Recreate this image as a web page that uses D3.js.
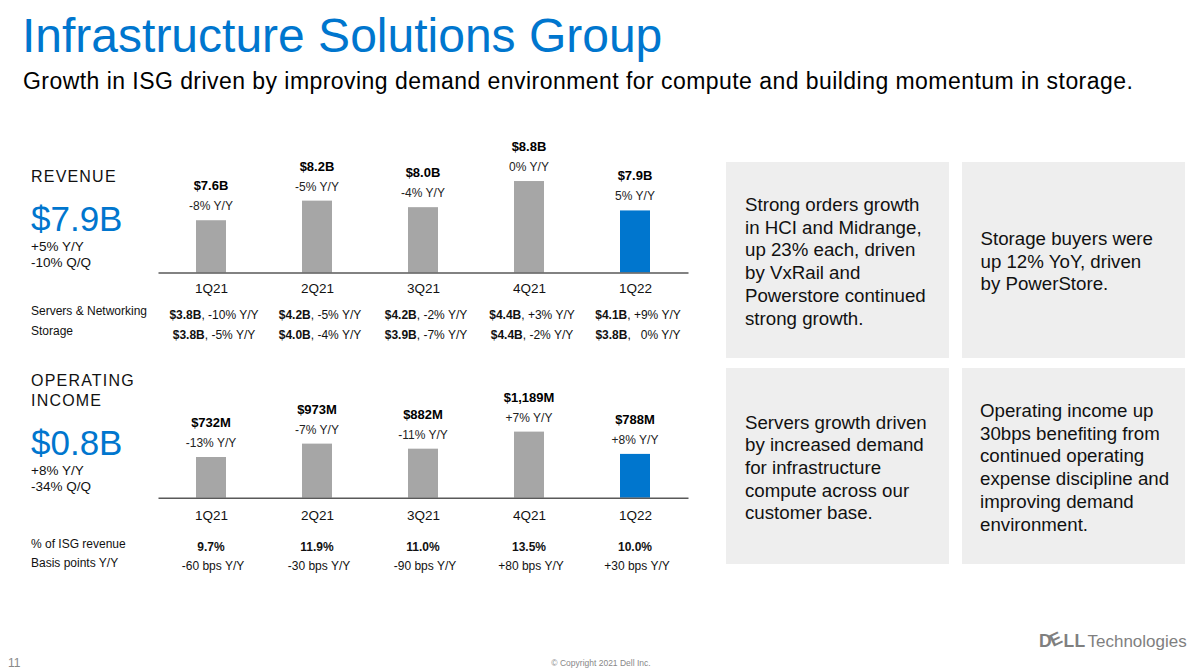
<!DOCTYPE html>
<html>
<head>
<meta charset="utf-8">
<script src="https://cdn.jsdelivr.net/npm/d3@7"></script>
<style>
  html, body { margin: 0; padding: 0; background: #fff; }
  svg { display: block; font-family: "Liberation Sans", Arial, sans-serif; }
  .pre { white-space: pre; }
</style>
</head>
<body>
<script>
// chart data
var quarters = ["1Q21", "2Q21", "3Q21", "4Q21", "1Q22"];

var revenue = [7.6, 8.2, 8.0, 8.8, 7.9];
var revenueLabels = ["$7.6B", "$8.2B", "$8.0B", "$8.8B", "$7.9B"];
var revenueYoY = ["-8% Y/Y", "-5% Y/Y", "-4% Y/Y", "0% Y/Y", "5% Y/Y"];

var serversNet = [["$3.8B", ", -10% Y/Y"], ["$4.2B", ", -5% Y/Y"], ["$4.2B", ", -2% Y/Y"], ["$4.4B", ", +3% Y/Y"], ["$4.1B", ", +9% Y/Y"]];
var storage = [["$3.8B", ", -5% Y/Y"], ["$4.0B", ", -4% Y/Y"], ["$3.9B", ", -7% Y/Y"], ["$4.4B", ", -2% Y/Y"], ["$3.8B", ",   0% Y/Y"]];

var opIncome = [732, 973, 882, 1189, 788];
var opIncomeLabels = ["$732M", "$973M", "$882M", "$1,189M", "$788M"];
var opIncomeYoY = ["-13% Y/Y", "-7% Y/Y", "-11% Y/Y", "+7% Y/Y", "+8% Y/Y"];

var pctOfRevenue = ["9.7%", "11.9%", "11.0%", "13.5%", "10.0%"];
var bpsYoY = ["-60 bps Y/Y", "-30 bps Y/Y", "-90 bps Y/Y", "+80 bps Y/Y", "+30 bps Y/Y"];

var notes = [
    ["Strong orders growth", "in HCI and Midrange,", "up 23% each, driven", "by VxRail and", "Powerstore continued", "strong growth."],
    ["Storage buyers were", "up 12% YoY, driven", "by PowerStore."],
    ["Servers growth driven", "by increased demand", "for infrastructure", "compute across our", "customer base."],
    ["Operating income up", "30bps benefiting from", "continued operating", "expense discipline and", "improving demand", "environment."]
];
//********

var blue = "#0076CE";
var grey = "#A6A6A6";

var width = 1200;
var height = 669;

var svg = d3.select("body").append("svg")
    .attr("width", width)
    .attr("height", height);

// header
svg.append("text")
    .attr("x", 22).attr("y", 52)
    .attr("font-size", 48)
    .attr("fill", blue)
    .text("Infrastructure Solutions Group");

svg.append("text")
    .attr("x", 23).attr("y", 89)
    .attr("font-size", 23)
    .attr("letter-spacing", 0.45)
    .attr("fill", "#000")
    .text("Growth in ISG driven by improving demand environment for compute and building momentum in storage.");

// x positions shared by both charts
var x = d3.scalePoint().domain(quarters).range([158, 688]).padding(0.5);
var barW = 30;

function drawChart(opts) {
    var y = d3.scaleLinear().domain(opts.domain).range([opts.base, opts.base - opts.span]);
    var g = svg.append("g");

    g.selectAll(".bar")
        .data(opts.values)
        .enter()
        .append("rect")
        .attr("class", "bar")
        .attr("x", function (d, i) { return x(quarters[i]) - barW / 2; })
        .attr("y", function (d) { return y(d); })
        .attr("width", barW)
        .attr("height", function (d) { return opts.base - y(d); })
        .attr("fill", function (d, i) { return i == quarters.length - 1 ? blue : grey; });

    g.selectAll(".val")
        .data(opts.values)
        .enter()
        .append("text")
        .attr("class", "val")
        .attr("x", function (d, i) { return x(quarters[i]); })
        .attr("y", function (d) { return y(d) - 30; })
        .attr("text-anchor", "middle")
        .attr("font-size", 13)
        .attr("font-weight", "bold")
        .text(function (d, i) { return opts.labels[i]; });

    g.selectAll(".yoy")
        .data(opts.values)
        .enter()
        .append("text")
        .attr("class", "yoy")
        .attr("x", function (d, i) { return x(quarters[i]); })
        .attr("y", function (d) { return y(d) - 10; })
        .attr("text-anchor", "middle")
        .attr("font-size", 12)
        .attr("fill", "#222")
        .text(function (d, i) { return opts.yoy[i]; });

    var axis = g.append("g")
        .attr("transform", "translate(0," + opts.base + ")")
        .call(d3.axisBottom(x).tickSize(0).tickPadding(opts.pad).tickSizeOuter(0));
    axis.select(".domain").attr("stroke", "#595959").attr("stroke-width", 1.6);
    axis.selectAll("text")
        .attr("font-size", 13.5)
        .attr("font-family", "Liberation Sans, Arial, sans-serif")
        .attr("fill", "#111");
}

drawChart({ values: revenue, labels: revenueLabels, yoy: revenueYoY, domain: [6, 9], base: 272.5, span: 98, pad: 11 });
drawChart({ values: opIncome, labels: opIncomeLabels, yoy: opIncomeYoY, domain: [0, 1200], base: 497.7, span: 66.7, pad: 12.5 });

// left side headings
function heading(lines, big, sub, top) {
    lines.forEach(function (l, i) {
        svg.append("text")
            .attr("x", 31).attr("y", top + i * 20.5)
            .attr("font-size", 16).attr("letter-spacing", 1.2)
            .attr("fill", "#111")
            .text(l);
    });
    var by = top + (lines.length - 1) * 20.5 + 49;
    svg.append("text")
        .attr("x", 31).attr("y", by)
        .attr("font-size", 35).attr("fill", blue)
        .text(big);
    sub.forEach(function (s, i) {
        svg.append("text")
            .attr("x", 31).attr("y", by + 20 + i * 16)
            .attr("font-size", 13.5).attr("fill", "#111")
            .text(s);
    });
}
heading(["REVENUE"], "$7.9B", ["+5% Y/Y", "-10% Q/Q"], 181.5);
heading(["OPERATING", "INCOME"], "$0.8B", ["+8% Y/Y", "-34% Q/Q"], 385.5);

// tables under the charts
function rowLabel(t, yy) {
    svg.append("text").attr("x", 31).attr("y", yy)
        .attr("font-size", 12).attr("fill", "#111").text(t);
}
function mixedRow(data, yy) {
    var t = svg.selectAll(null)
        .data(data)
        .enter()
        .append("text")
        .attr("class", "pre")
        .attr("x", function (d, i) { return x(quarters[i]) + 3; })
        .attr("y", yy)
        .attr("text-anchor", "middle")
        .attr("font-size", 12)
        .attr("fill", "#111");
    t.append("tspan").attr("font-weight", "bold").text(function (d) { return d[0]; });
    t.append("tspan").text(function (d) { return d[1]; });
}
function plainRow(data, yy, bold, dx) {
    svg.selectAll(null)
        .data(data)
        .enter()
        .append("text")
        .attr("x", function (d, i) { return x(quarters[i]) + dx; })
        .attr("y", yy)
        .attr("text-anchor", "middle")
        .attr("font-size", 12)
        .attr("font-weight", bold ? "bold" : "normal")
        .attr("fill", "#111")
        .text(function (d) { return d; });
}

rowLabel("Servers & Networking", 315);
rowLabel("Storage", 334.5);
mixedRow(serversNet, 319);
mixedRow(storage, 338.5);

rowLabel("% of ISG revenue", 547.5);
rowLabel("Basis points Y/Y", 566.5);
plainRow(pctOfRevenue, 550.5, true, 0);
plainRow(bpsYoY, 569.5, false, 2);

// commentary boxes
var boxes = [
    { x: 726, y: 162, w: 223, h: 196, tx: 745, ty: 211 },
    { x: 962, y: 162, w: 223, h: 196, tx: 980.5, ty: 245 },
    { x: 726, y: 368, w: 223, h: 196, tx: 745, ty: 428.5 },
    { x: 962, y: 368, w: 223, h: 196, tx: 980, ty: 417 }
];
boxes.forEach(function (b, i) {
    svg.append("rect")
        .attr("x", b.x).attr("y", b.y)
        .attr("width", b.w).attr("height", b.h)
        .attr("fill", "#EEEEEE");
    var t = svg.append("text")
        .attr("x", b.tx).attr("y", b.ty)
        .attr("font-size", 18.7).attr("fill", "#111");
    notes[i].forEach(function (l, j) {
        t.append("tspan").attr("x", b.tx).attr("dy", j == 0 ? 0 : 22.7).text(l);
    });
});

// footer
svg.append("text")
    .attr("x", 8).attr("y", 667)
    .attr("font-size", 12).attr("fill", "#888")
    .text("11");

svg.append("text")
    .attr("x", 601).attr("y", 666)
    .attr("text-anchor", "middle")
    .attr("font-size", 8.5).attr("fill", "#888")
    .text("\u00A9 Copyright 2021 Dell Inc.");

var logo = svg.append("g").attr("fill", "#7F7F7F");
logo.append("text").attr("x", 1039).attr("y", 647)
    .attr("font-size", 17.5).attr("font-weight", "bold").text("D");
logo.append("text").attr("transform", "translate(1053,647) rotate(-25)")
    .attr("font-size", 17.5).attr("font-weight", "bold").text("E");
logo.append("text").attr("x", 1063.5).attr("y", 647)
    .attr("font-size", 17.5).attr("font-weight", "bold").attr("letter-spacing", 0.3).text("LL");
logo.append("text").attr("x", 1087.5).attr("y", 647)
    .attr("font-size", 17).text("Technologies");
</script>
</body>
</html>
